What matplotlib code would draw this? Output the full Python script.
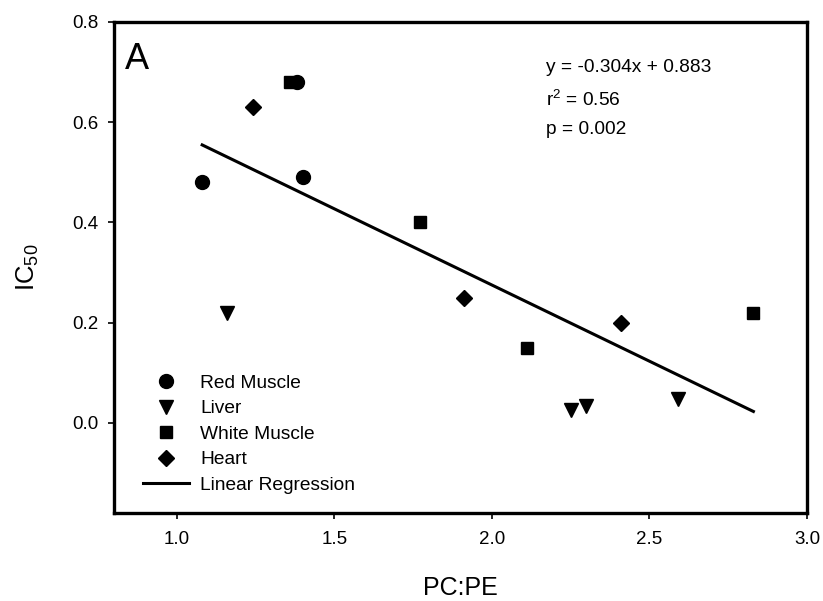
import numpy as np
import matplotlib
matplotlib.use('Agg')
from matplotlib import pyplot as plt

plt.rcParams['font.family'] = ['Liberation Sans', 'DejaVu Sans']
plt.rcParams['mathtext.default'] = 'regular'

# PC:PE ratio vs IC50 for each tissue
red_x = [1.08, 1.38, 1.40]
red_y = [0.48, 0.68, 0.49]
liver_x = [1.16, 2.25, 2.30, 2.59]
liver_y = [0.22, 0.025, 0.033, 0.047]
white_x = [1.36, 1.77, 2.11, 2.83]
white_y = [0.68, 0.40, 0.15, 0.22]
heart_x = [1.24, 1.91, 2.41]
heart_y = [0.63, 0.25, 0.20]

slope = -0.304
intercept = 0.883
fit_txt = ['y = -0.304x + 0.883', 'r$^{2}$ = 0.56', 'p = 0.002']

xticks = [1.0, 1.5, 2.0, 2.5, 3.0]
yticks = [0.0, 0.2, 0.4, 0.6, 0.8]

fig = plt.figure(figsize=(8.23, 6.01), dpi=100)
ax = fig.add_axes([0.1385, 0.1464, 0.842, 0.817])

ax.plot(red_x, red_y, 'o', color='k', ms=10, ls='none', label='Red Muscle')
ax.plot(liver_x, liver_y, 'v', color='k', ms=10, ls='none', label='Liver')
ax.plot(white_x, white_y, 's', color='k', ms=9, ls='none', label='White Muscle')
ax.plot(heart_x, heart_y, 'D', color='k', ms=8.5, ls='none', label='Heart')

allx = np.array(red_x + liver_x + white_x + heart_x)
fx = np.array([allx.min(), allx.max()])
ax.plot(fx, slope*fx + intercept, color='k', lw=2.2, label='Linear Regression')

ax.set_xlim(0.8, 3.0)
ax.set_ylim(-0.18, 0.8)
ax.set_xticks(xticks)
ax.set_yticks(yticks)
ax.set_xticklabels(['%.1f' % v for v in xticks])
ax.set_yticklabels(['%.1f' % v for v in yticks])
for s in ax.spines.values():
    s.set_linewidth(2.4)
ax.tick_params(direction='out', length=4.3, width=1.2, labelsize=13.5, pad=7)
ax.tick_params(axis='x', pad=9)

ax.set_xlabel('PC:PE', fontsize=18, labelpad=20)
ax.set_ylabel('IC$_{50}$', fontsize=18.5, labelpad=22)

ax.text(0.835, 0.707, 'A', fontsize=26, va='baseline', ha='left')
for i, t in enumerate(fit_txt):
    ax.text(2.171, [0.70, 0.633, 0.577][i], t, fontsize=13.8, va='baseline', ha='left')

ax.legend(loc='lower left', bbox_to_anchor=(0.0418, 0.0393), frameon=False,
          fontsize=13.8, borderpad=0, borderaxespad=0, handlelength=2.4,
          handletextpad=0.57, labelspacing=0.42)

fig.savefig('out.png', dpi=100)
